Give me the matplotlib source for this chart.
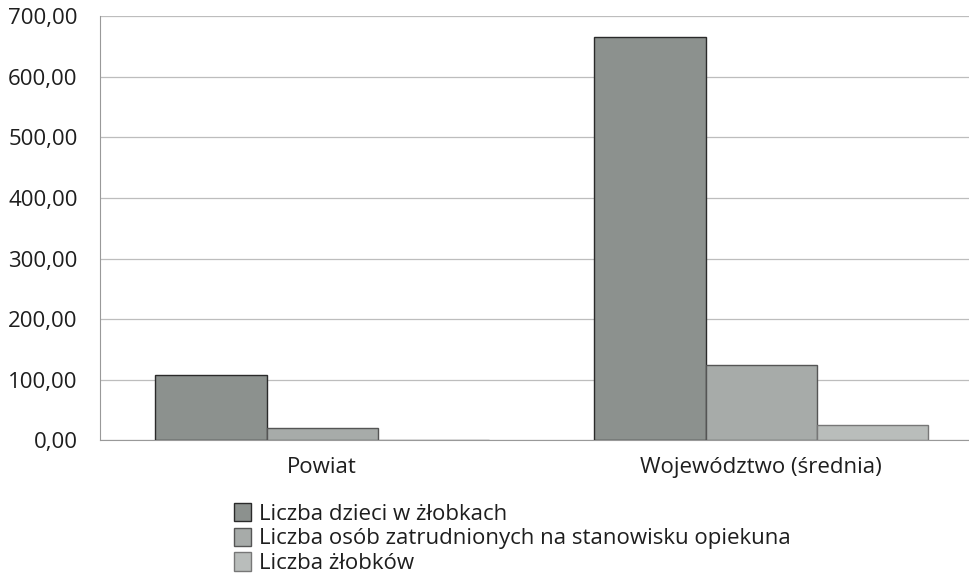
import matplotlib
matplotlib.use("Agg")
import matplotlib.pyplot as plt
from matplotlib.ticker import FuncFormatter
import numpy as np

categories = ["Powiat", "Województwo (średnia)"]
series_names = ["Liczba dzieci w żłobkach",
                "Liczba osób zatrudnionych na stanowisku opiekuna",
                "Liczba żłobków"]
dzieci = [107, 665]
opiekunowie = [21, 124]
zlobki = [0, 25]
yticks = [0, 100, 200, 300, 400, 500, 600, 700]

plt.rcParams['font.family'] = ['Open Sans', 'DejaVu Sans']

fig = plt.figure(figsize=(9.7, 5.8), dpi=100)
ax = fig.add_axes([0.103, 0.241, 0.897, 0.731])

x = np.arange(len(categories))
w = 0.253
colors = ["#8c918e", "#a7aba9", "#b9bdbb"]
edges = ["#2a2a2a", "#555555", "#777777"]
for i, (vals, c, e) in enumerate(zip([dzieci, opiekunowie, zlobki], colors, edges)):
    ax.bar(x + (i - 1) * w, vals, width=w, color=c, edgecolor=e, linewidth=1.0,
           label=series_names[i], zorder=3)

ax.set_xlim(-0.506, 1.476)
ax.set_ylim(0, 700)
ax.set_yticks(yticks)
ax.yaxis.set_major_formatter(FuncFormatter(lambda v, p: f"{v:.2f}".replace(".", ",")))
ax.set_xticks(x)
ax.set_xticklabels(categories)
ax.tick_params(axis='both', length=0, labelsize=16, colors="#1e1e1e")
ax.tick_params(axis='x', pad=12)
ax.tick_params(axis='y', pad=16)
ax.grid(axis='y', color="#bdbdbd", linewidth=0.9, zorder=0)
for s in ["top", "right"]:
    ax.spines[s].set_visible(False)
ax.spines["left"].set_color("#999999")
ax.spines["bottom"].set_color("#999999")

leg = fig.legend(loc="upper left", bbox_to_anchor=(0.232, 0.148), frameon=False,
                 fontsize=16, handlelength=0.75, handleheight=0.9, handletextpad=0.4,
                 labelspacing=0.12, borderaxespad=0)
for t in leg.get_texts():
    t.set_color("#1e1e1e")

fig.savefig("out.png", dpi=100, facecolor="white")
